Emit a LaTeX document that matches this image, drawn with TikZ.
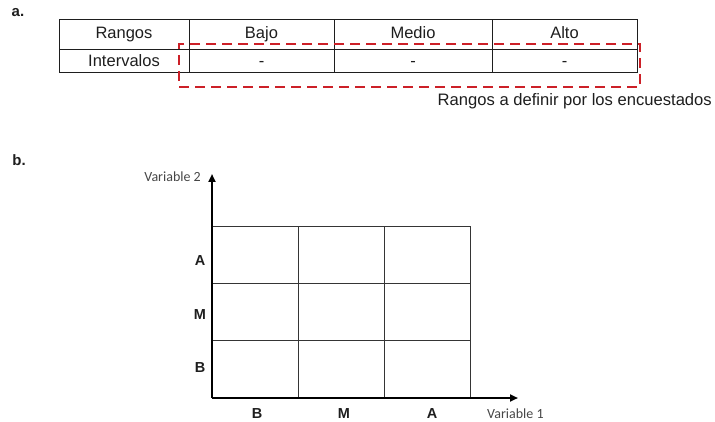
\documentclass[tikz,border=0pt]{standalone}
\usepackage{fontspec}
\setmainfont{Liberation Sans}
\newfontfamily\varfont{Carlito}
\usetikzlibrary{arrows.meta,calc}
\definecolor{dashred}{RGB}{204,32,40}
\definecolor{txt}{RGB}{30,30,30}
\definecolor{vartxt}{RGB}{70,70,70}
\tikzset{
  cell/.style={draw=txt, line width=1pt, inner sep=0pt, text=txt, font=\fontsize{16.5}{19}\selectfont, text height=11.9pt},
  toprow/.style={cell, minimum height=30pt, text depth=5pt},
  botrow/.style={cell, minimum height=23pt, text depth=1pt},
  gcell/.style={draw=txt!90, line width=0.8pt, inner sep=0pt, minimum width=86pt, minimum height=57pt},
  axis/.style={line width=2pt, -{Triangle[length=8pt,width=7pt]}},
  lab/.style={font=\bfseries\fontsize{14.5}{17}\selectfont, text=txt, inner sep=0pt, text height=10.5pt, text depth=0pt},
  partlab/.style={font=\bfseries\fontsize{15}{18}\selectfont, text=txt, inner sep=0pt},
  varlab/.style={font=\varfont\fontsize{14}{16}\selectfont, text=vartxt, inner sep=0pt, text height=9pt, text depth=0pt},
  hilite/.style={draw=dashred, line width=2.6pt, dash pattern=on 10pt off 6pt},
}
\begin{document}
\begin{tikzpicture}[x=1pt,y=-1pt]
\useasboundingbox (0,0) rectangle (715,422);
% part a
\node[partlab] (pa) at (18,13) {a.};
\node[toprow, minimum width=130pt] (h1) at (124,35) {Rangos};
\node[toprow, minimum width=145pt] (h2) at (261.5,35) {Bajo};
\node[toprow, minimum width=158pt] (h3) at (413,35) {Medio};
\node[toprow, minimum width=145pt] (h4) at (564.5,35) {Alto};
\node[botrow, minimum width=130pt] (v1) at (124,61.5) {Intervalos};
\node[botrow, minimum width=145pt] (v2) at (261.5,61.5) {-};
\node[botrow, minimum width=158pt] (v3) at (413,61.5) {-};
\node[botrow, minimum width=145pt] (v4) at (564.5,61.5) {-};
\node[hilite, minimum width=461pt, minimum height=43pt, inner sep=0pt] (box) at (409.5,65.5) {};
\node[anchor=base east, inner sep=0pt, text=txt, font=\fontsize{16.6}{19}\selectfont] (cap) at (712,106) {Rangos a definir por los encuestados};
% part b
\node[partlab] (pb) at (19,160) {b.};
\coordinate (o) at (212,398);
\coordinate (ytop) at (212,174);
\coordinate (xend) at (518,398);
\foreach \c [count=\i] in {0,1,2}{
  \foreach \r [count=\j] in {0,1,2}{
    \node[gcell, anchor=south west] (g\i\j) at ($(o)+(86*\c,-57*\r)$) {};
  }
}
\draw[axis] (o) -- (ytop);
\draw[axis] (o) -- (xend);
\node[varlab, anchor=east] (v2lab) at (201,177) {Variable 2};
\node[varlab, anchor=west] (v1lab) at (487,414) {Variable 1};
\node[lab] (ya) at (200,260) {A};
\node[lab] (ym) at (200,314) {M};
\node[lab] (yb) at (200,367) {B};
\node[lab] (xb) at (257,413.5) {B};
\node[lab] (xm) at (344,413.5) {M};
\node[lab] (xa) at (432,413.5) {A};
\end{tikzpicture}
\end{document}
